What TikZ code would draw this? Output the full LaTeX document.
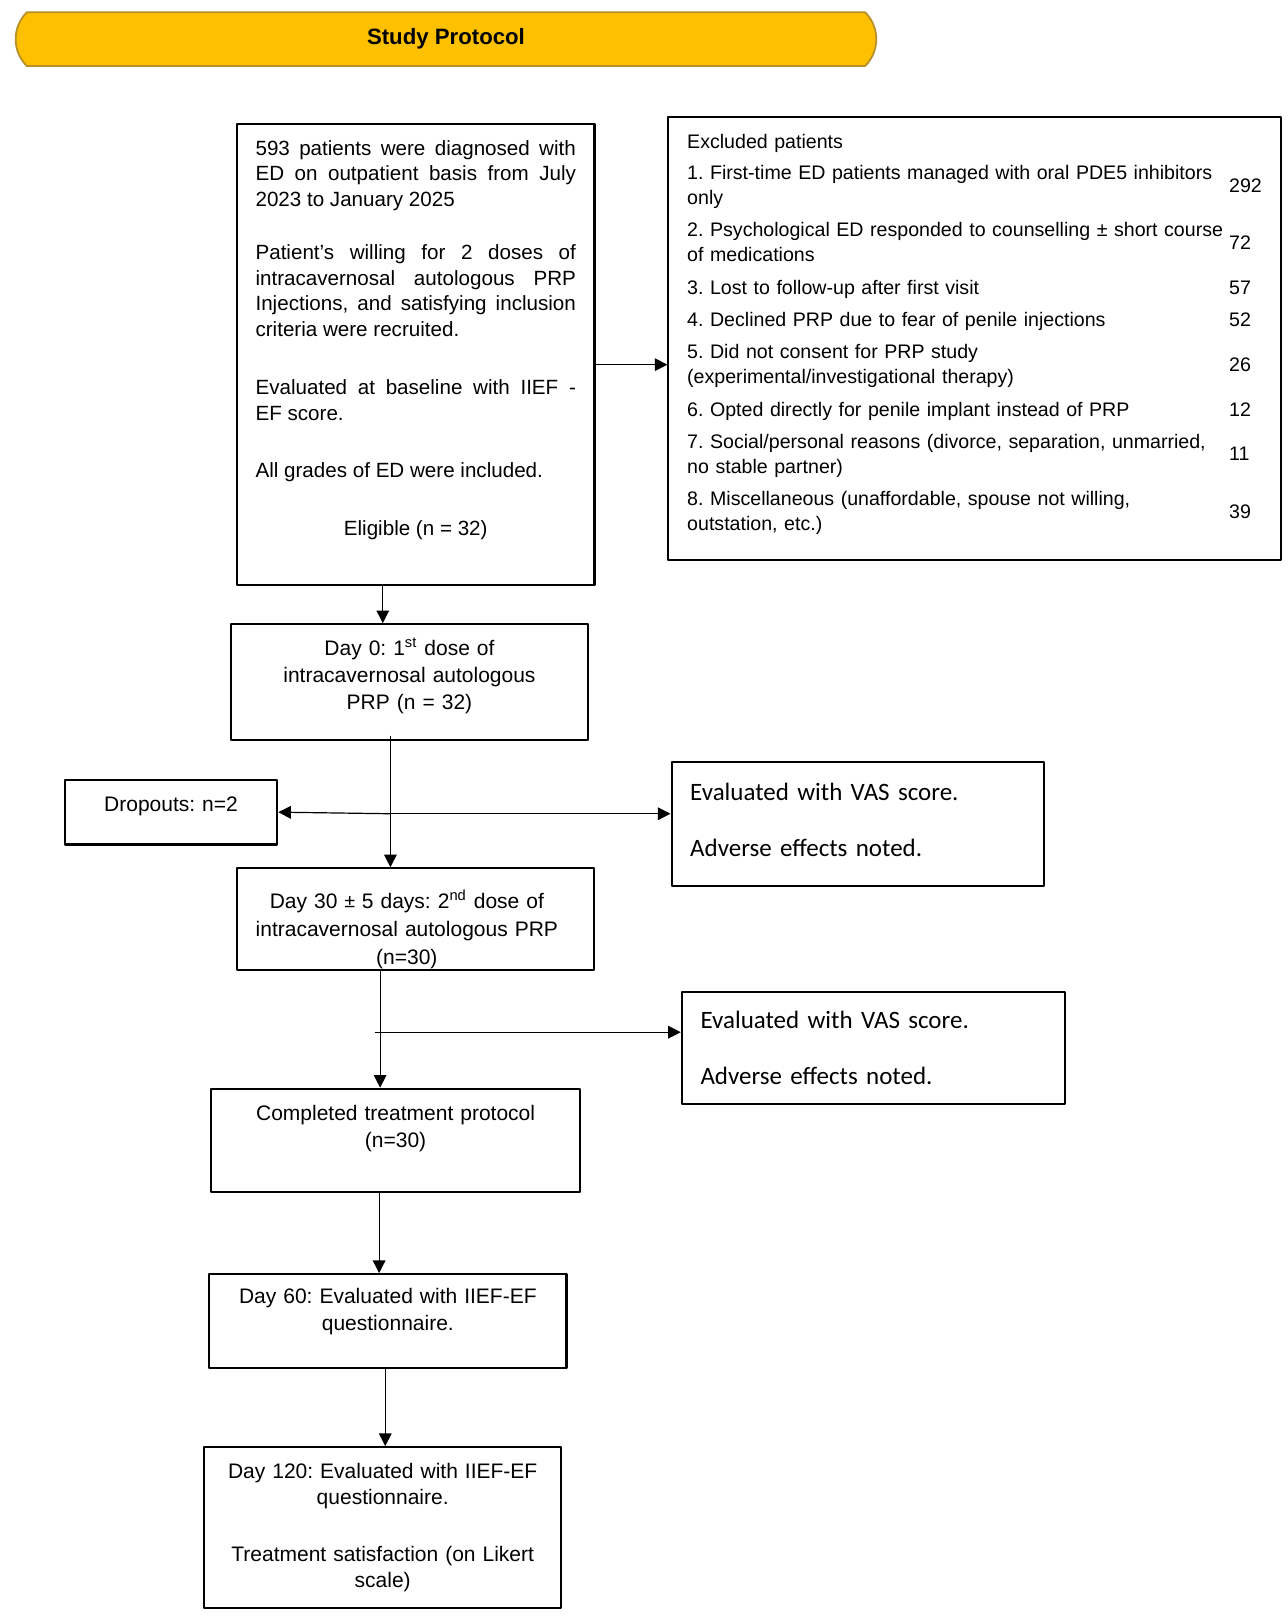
\documentclass[tikz,border=0pt]{standalone}
\usepackage{fontspec}
\setmainfont{Liberation Sans}
\newfontfamily\vasfont{Carlito}
\usepackage{array}
\usetikzlibrary{arrows.meta,calc,shapes.misc}
\definecolor{gold}{HTML}{FFC000}
\definecolor{golddark}{HTML}{B8902A}
\setlength{\parindent}{0pt}
\frenchspacing
\newcommand{\padbelow}[1]{\rule[-#1]{0pt}{0pt}}
\newcommand{\padabove}[1]{\rule{0pt}{#1}}

\begin{document}
\begin{tikzpicture}[x=0.515pt,y=-0.515pt,line join=round,>={Triangle[length=6.3pt,width=6.3pt]},
  banner/.style={rounded rectangle,rounded rectangle arc length=90,fill=gold,draw=golddark,line width=0.9pt,minimum width=437pt,minimum height=26.8pt,font=\bfseries\fontsize{11.1}{13}\selectfont},
  box/.style={draw,line width=1.1pt,inner xsep=9.3pt,inner ysep=0pt,anchor=north west,align=center,font=\fontsize{10.5}{13.4}\selectfont},
  vasbox/.style={box,align=left,font=\vasfont\fontsize{12.5}{15}\selectfont},
  link/.style={->,line width=0.6pt}]
\useasboundingbox (0,0) rectangle (1250,1569);

\node[banner] (head) at (433,38) {Study Protocol};

\node[box,align=justify,minimum width=178.7pt,minimum height=230.7pt,text width=160.2pt,
  font={\fontsize{10.3}{12.9}\selectfont\hyphenpenalty=10000\tolerance=9999}] (main) at (229,119)
  {593 patients were diagnosed with ED on outpatient basis from July 2023 to January 2025\par\vspace{13.4pt}
   Patient's willing for 2 doses of intracavernosal autologous PRP Injections, and satisfying inclusion criteria were recruited.\par\vspace{15.9pt}
   Evaluated at baseline with IIEF -\linebreak EF score.\par\vspace{15.9pt}
   All grades of ED were included.\par\vspace{15.9pt}
   {\centering Eligible (n = 32)\padbelow{16.6pt}\par}};

\node[box,align=left,line width=0.9pt,minimum width=306.4pt,minimum height=221.5pt,text width=287.5pt,
  font=\fontsize{9.8}{12.4}\selectfont] (excl) at (648,113)
  {\begin{tabular}{@{}>{\raggedright\arraybackslash}m{270pt}@{\hspace{1pt}}l@{}}
   Excluded patients & \\\noalign{\vskip3pt}
   1. First-time ED patients managed with oral PDE5 inhibitors only & 292\\\noalign{\vskip3.8pt}
   2. Psychological ED responded to counselling ± short course of medications & 72\\\noalign{\vskip3.8pt}
   3. Lost to follow-up after first visit & 57\\\noalign{\vskip3.8pt}
   4. Declined PRP due to fear of penile injections & 52\\\noalign{\vskip3.8pt}
   5. Did not consent for PRP study (experimental/investigational therapy) & 26\\\noalign{\vskip3.8pt}
   6. Opted directly for penile implant instead of PRP & 12\\\noalign{\vskip3.8pt}
   7. Social/personal reasons (divorce, separation, unmarried, no stable partner) & 11\\\noalign{\vskip3.8pt}
   8. Miscellaneous (unaffordable, spouse not willing, outstation, etc.) & 39\padbelow{14pt}
   \end{tabular}};

\node[box,minimum width=178.7pt,minimum height=57.7pt,text width=160pt] (day0) at (223,605)
  {Day 0: 1\textsuperscript{st} dose of\\ intracavernosal autologous\\ PRP (n = 32)\padbelow{8.4pt}};

\node[box,minimum width=106.1pt,minimum height=32.4pt,text width=87.5pt] (drop) at (62,756)
  {Dropouts: n=2\padbelow{8.3pt}};

\node[vasbox,minimum width=186.4pt,minimum height=61.8pt,text width=167.8pt] (vasA) at (651,739)
  {Evaluated with VAS score.\par\vspace{13.3pt}Adverse effects noted.\padbelow{4.2pt}};

\node[box,minimum width=178.7pt,minimum height=51pt,text width=160pt,font=\fontsize{10.5}{14}\selectfont] (day30) at (229,842)
  {\padabove{19pt}\hspace*{-8.8pt}Day 30 {\vasfont ±} 5 days: 2\textsuperscript{nd} dose of\\ \hspace*{-8.8pt}intracavernosal autologous PRP\\ \hspace*{-8.8pt}(n=30)};

\node[vasbox,minimum width=191.6pt,minimum height=56.1pt,text width=173pt] (vasB) at (661,962)
  {Evaluated with VAS score.\par\vspace{13.3pt}Adverse effects noted.};

\node[box,minimum width=184.4pt,minimum height=51.5pt,text width=165.8pt] (done) at (204,1056)
  {Completed treatment protocol\\ (n=30)\padbelow{13.5pt}};

\node[box,minimum width=178.7pt,minimum height=46.9pt,text width=160pt] (day60) at (202,1236)
  {Day 60: Evaluated with IIEF-EF\\ questionnaire.\padbelow{11.4pt}};

\node[box,minimum width=178.7pt,minimum height=80.3pt,text width=160pt,font=\fontsize{10.5}{12.9}\selectfont] (day120) at (197,1404)
  {Day 120: Evaluated with IIEF-EF\\ questionnaire.\par\vspace{16pt}Treatment satisfaction (on Likert\\ scale)};

\coordinate (m-out) at ($(main.east)+(0,10)$);
\coordinate (m-down) at ($(main.south)+(-32,0)$);
\coordinate (d0-down) at ($(day0.south)+(-18.5,-5)$);
\coordinate (fork) at ($(d0-down |- vasA.west)+(0,-10)$);
\coordinate (d30-down) at ($(day30.south)+(-34.5,0)$);
\coordinate (tap) at ($(d30-down)+(-5,59)$);
\coordinate (done-down) at ($(done.south)+(-16,0)$);
\coordinate (d60-down) at ($(day60.south)+(-2.5,0)$);

\draw[link] (m-out) -- (m-out -| excl.west);
\draw[link] (m-down) -- (m-down |- day0.north);
\draw[link] (d0-down) -- (d0-down |- day30.north);
\draw[link] (fork) -- (drop.east);
\draw[link] (fork) -- (fork -| vasA.west);
\draw[link] (d30-down) -- (d30-down |- done.north);
\draw[link] (tap) -- (tap -| vasB.west);
\draw[link] (done-down) -- (done-down |- day60.north);
\draw[link] (d60-down) -- (d60-down |- day120.north);
\end{tikzpicture}
\end{document}
